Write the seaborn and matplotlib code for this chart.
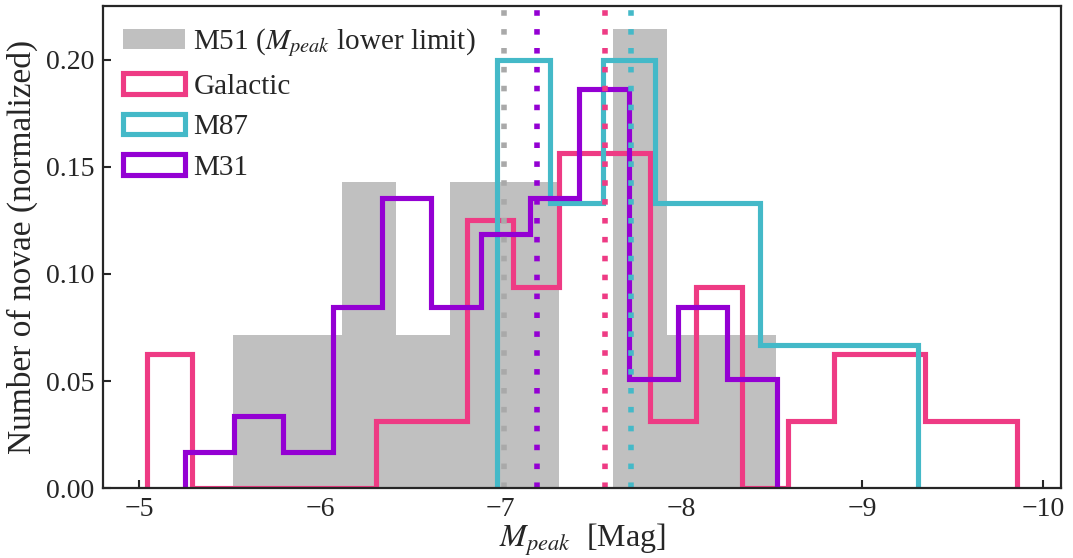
import numpy as np
import matplotlib
matplotlib.use("Agg")
from matplotlib import pyplot as plt
from matplotlib.patches import Patch
from matplotlib.ticker import FormatStrFormatter
import seaborn as sns

# bin edges (Mag) and counts per bin
m51_edges = [-8.52, -8.22, -7.92, -7.62, -7.32, -7.02, -6.72, -6.42, -6.12, -5.82, -5.52]
m51_counts = [1, 1, 3, 0, 2, 2, 1, 2, 1, 1]

gal_edges = [-9.856, -9.602, -9.349, -9.095, -8.842, -8.589, -8.335, -8.082, -7.828, -7.575,
             -7.322, -7.068, -6.815, -6.561, -6.308, -6.055, -5.801, -5.548, -5.294, -5.041]
gal_counts = [1, 1, 2, 2, 1, 0, 3, 1, 5, 5, 3, 4, 1, 1, 0, 0, 0, 0, 2]

m87_edges = [-9.307, -9.016, -8.726, -8.435, -8.144, -7.854, -7.563, -7.273, -6.982]
m87_counts = [1, 1, 1, 2, 2, 3, 2, 3]

m31_edges = [-8.526, -8.253, -7.980, -7.707, -7.434, -7.161, -6.889, -6.616, -6.343,
             -6.070, -5.797, -5.525, -5.252]
m31_counts = [3, 5, 3, 11, 8, 7, 5, 8, 5, 1, 2, 1]

# median lines
med_m51 = -7.02
med_m31 = -7.20
med_gal = -7.575
med_m87 = -7.72

c_m51 = "#C0C0C0"
c_m51_line = "#A9A9A9"
c_gal = "#EE3B84"
c_m87 = "#44B9C8"
c_m31 = "#9400D3"

sns.set_style("ticks")
plt.rcParams['font.family'] = ['Liberation Serif', 'DejaVu Serif']
plt.rcParams['mathtext.fontset'] = 'stix'


def centers(edges):
    e = np.array(edges)
    return (e[:-1] + e[1:]) / 2


def weights(counts):
    c = np.array(counts, dtype=float)
    return c / c.sum()


fig = plt.figure(figsize=(10.73, 5.58), dpi=100)
ax = fig.add_axes([0.096, 0.125, 0.893, 0.864])

lw = 3.7
sns.histplot(x=centers(m51_edges), weights=weights(m51_counts), bins=m51_edges,
             element="bars", fill=True, color=c_m51, alpha=1, linewidth=0, ax=ax)
for edges, counts, col in [(gal_edges, gal_counts, c_gal),
                           (m87_edges, m87_counts, c_m87),
                           (m31_edges, m31_counts, c_m31)]:
    sns.histplot(x=centers(edges), weights=weights(counts), bins=edges,
                 element="step", fill=False, color=col, linewidth=lw, ax=ax)
    # close the outline down to the baseline at both ends, like histtype='step'
    line = ax.lines[-1]
    xs, ys = line.get_xdata(), line.get_ydata()
    line.set_data(np.r_[xs[0], xs, xs[-1]], np.r_[0, ys, 0])
    line.set_solid_joinstyle('miter')

dots = (0, (1, 2.4))
for m, col in [(med_m51, c_m51_line), (med_m31, c_m31), (med_gal, c_gal), (med_m87, c_m87)]:
    ax.axvline(m, color=col, linestyle=dots, linewidth=4)

ax.set_xlim(-4.8, -10.1)
ax.set_ylim(0, 0.225)
ax.set_yticks([0, 0.05, 0.10, 0.15, 0.20])
ax.yaxis.set_major_formatter(FormatStrFormatter('%.2f'))
ax.tick_params(direction='in', length=6, width=1.5, labelsize=20, pad=6)
for s in ax.spines.values():
    s.set_linewidth(1.6)
    s.set_visible(True)
ax.set_xlabel(r"$M_{peak}$  [Mag]", fontsize=23, labelpad=0)
ax.set_ylabel("Number of novae (normalized)", fontsize=24, labelpad=6)

handles = [Patch(facecolor=c_m51, edgecolor='none'),
           Patch(facecolor='white', edgecolor=c_gal, linewidth=lw),
           Patch(facecolor='white', edgecolor=c_m87, linewidth=lw),
           Patch(facecolor='white', edgecolor=c_m31, linewidth=lw)]
labels = [r"M51 ($M_{peak}$ lower limit)", "Galactic", "M87", "M31"]
ax.legend(handles, labels, loc='upper left', frameon=False, fontsize=21,
          handlelength=2.1, handleheight=0.7, handletextpad=0.3,
          labelspacing=0.48, borderaxespad=0.3)

fig.savefig("out.png", dpi=100)
